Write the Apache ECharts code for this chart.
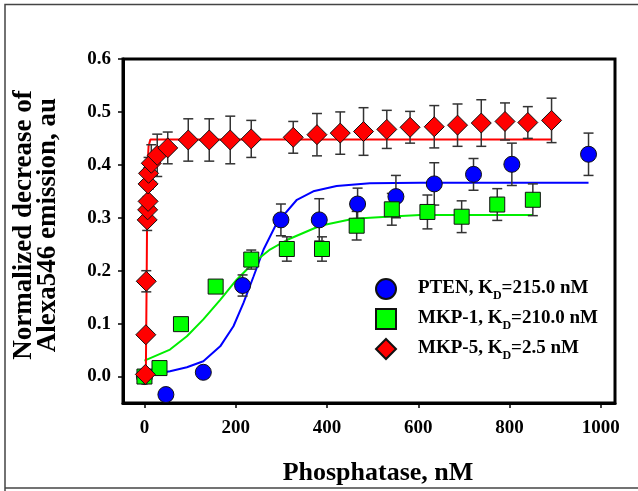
<!DOCTYPE html>
<html>
<head>
<meta charset="utf-8">
<script src="https://cdn.jsdelivr.net/npm/echarts@6/dist/echarts.min.js"></script>
<style>
html,body{margin:0;padding:0;background:#fff;}
#chart{width:638px;height:491px;}
</style>
</head>
<body>
<div id="chart"></div>
<script>
// ---- data ----
const xTicks = [0, 200, 400, 600, 800, 1000];
const yTicks = [0, 0.1, 0.2, 0.3, 0.4, 0.5, 0.6];

const ptenX   = [0, 47, 129, 215, 299, 383, 467, 551, 635, 721, 805, 973];
const ptenY   = [0.0, -0.034, 0.008, 0.172, 0.296, 0.296, 0.326, 0.34, 0.364, 0.382, 0.401, 0.42];
const ptenErr = [0, 0, 0, 0.02, 0.03, 0.04, 0.03, 0.04, 0.04, 0.03, 0.04, 0.04];

const mkp1X   = [0, 33, 80, 156, 234, 312, 389, 465, 542, 620, 695, 773, 851];
const mkp1Y   = [0.0, 0.016, 0.099, 0.17, 0.221, 0.241, 0.241, 0.285, 0.316, 0.311, 0.302, 0.325, 0.334];
const mkp1Err = [0, 0, 0, 0, 0.018, 0.023, 0.023, 0.027, 0.03, 0.032, 0.03, 0.03, 0.03];

const mkp5X   = [2, 3, 4, 6, 7, 8, 8, 9, 15, 28, 51, 96, 142, 188, 234, 326, 378, 429, 480, 531, 582, 635, 686, 738, 790, 840, 892];
const mkp5Y   = [0.004, 0.079, 0.18, 0.296, 0.315, 0.331, 0.364, 0.384, 0.403, 0.418, 0.432, 0.447, 0.447, 0.447, 0.449, 0.452, 0.457, 0.46, 0.463, 0.467, 0.471, 0.472, 0.475, 0.479, 0.482, 0.48, 0.484];
const mkp5Err = [0, 0, 0.02, 0.02, 0.025, 0.03, 0.03, 0.03, 0.035, 0.04, 0.03, 0.04, 0.04, 0.045, 0.035, 0.03, 0.04, 0.04, 0.045, 0.036, 0.03, 0.04, 0.04, 0.044, 0.035, 0.03, 0.042];

// fitted curves
const ptenFitX = [0, 56, 93, 129, 166, 195, 217, 239, 261, 290, 334, 370, 421, 494, 604, 973];
const ptenFitY = [0.002, 0.01, 0.0175, 0.029, 0.057, 0.095, 0.139, 0.189, 0.24, 0.29, 0.334, 0.35, 0.36, 0.365, 0.366, 0.366];
const mkp1FitX = [0, 56, 93, 129, 166, 202, 239, 275, 312, 385, 458, 531, 604, 851];
const mkp1FitY = [0.03, 0.051, 0.076, 0.108, 0.145, 0.183, 0.215, 0.24, 0.258, 0.285, 0.298, 0.302, 0.305, 0.305];
const mkp5FitX = [3, 5, 6, 7, 9, 13, 892];
const mkp5FitY = [0.0, 0.2, 0.33, 0.4, 0.435, 0.448, 0.448];

const names = ['PTEN', 'MKP-1', 'MKP-5'];
const kdText = { 'PTEN': '215.0 nM', 'MKP-1': '210.0 nM', 'MKP-5': '2.5 nM' };

// ---- helpers ----
const zip = (xs, ys) => xs.map((x, i) => [x, ys[i]]);
const zip3 = (xs, ys, es) => xs.map((x, i) => [x, ys[i], es[i]]);
const FONT = "'Liberation Serif', 'Times New Roman', serif";

function errSeries(xs, ys, es) {
  return {
    type: 'custom',
    silent: true,
    z: 3,
    data: zip3(xs, ys, es).filter(d => d[2] > 0),
    renderItem: function (params, api) {
      const x = api.value(0), y = api.value(1), e = api.value(2);
      const top = api.coord([x, y + e]);
      const bot = api.coord([x, y - e]);
      const w = 5;
      const st = { stroke: '#333', lineWidth: 1.5 };
      return {
        type: 'group',
        children: [
          { type: 'line', shape: { x1: top[0], y1: top[1], x2: bot[0], y2: bot[1] }, style: st },
          { type: 'line', shape: { x1: top[0] - w, y1: top[1], x2: top[0] + w, y2: top[1] }, style: st },
          { type: 'line', shape: { x1: bot[0] - w, y1: bot[1], x2: bot[0] + w, y2: bot[1] }, style: st }
        ]
      };
    }
  };
}
function fitSeries(xs, ys, color) {
  return {
    type: 'line', data: zip(xs, ys), showSymbol: false, symbol: 'none',
    smooth: false, silent: true, z: 2,
    lineStyle: { color: color, width: 2 }
  };
}

const chart = echarts.init(document.getElementById('chart'), null, { renderer: 'canvas' });
const option = {
  animation: false,
  backgroundColor: '#fff',
  grid: {
    left: 123, top: 59, right: 23, bottom: 87,
    show: true, borderColor: '#000', borderWidth: 3, backgroundColor: 'transparent'
  },
  xAxis: {
    type: 'value', min: -47, max: 1031,
    name: 'Phosphatase, nM', nameLocation: 'middle', nameGap: 57,
    nameTextStyle: { fontFamily: FONT, fontWeight: 'bold', fontSize: 26, color: '#000', padding: [0, 0, 0, 18] },
    axisLine: { show: true, onZero: false, lineStyle: { color: '#000', width: 3 } },
    axisTick: { show: true, inside: false, length: 5, customValues: xTicks, lineStyle: { color: '#000', width: 1.5 } },
    axisLabel: { customValues: xTicks, margin: 16, fontFamily: FONT, fontWeight: 'bold', fontSize: 19, color: '#000',
      formatter: v => String(v) },
    splitLine: { show: false }
  },
  yAxis: {
    type: 'value', min: -0.05, max: 0.6,
    name: 'Normalized decrease of\nAlexa546 emission, au', nameLocation: 'middle', nameGap: 63, nameRotate: 90,
    nameTextStyle: { fontFamily: FONT, fontWeight: 'bold', fontSize: 27, lineHeight: 24, color: '#000', padding: [0, 0, 0, 12] },
    axisLine: { show: true, onZero: false, lineStyle: { color: '#000', width: 3 } },
    axisTick: { show: true, inside: false, length: 5, customValues: yTicks, lineStyle: { color: '#000', width: 1.5 } },
    axisLabel: { customValues: yTicks, margin: 12, fontFamily: FONT, fontWeight: 'bold', fontSize: 19, color: '#000',
      formatter: v => v.toFixed(1) },
    splitLine: { show: false }
  },
  legend: {
    data: names,
    orient: 'vertical', left: 370, top: 273,
    itemWidth: 20, itemHeight: 20, itemGap: 6,
    formatter: function (name) {
      return '{t|' + name + ', K}{s|D}{t|=' + kdText[name] + '}';
    },
    textStyle: {
      padding: [0, 0, 0, 17],
      rich: {
        t: { fontFamily: FONT, fontWeight: 'bold', fontSize: 19, color: '#000', lineHeight: 20, verticalAlign: 'top' },
        s: { fontFamily: FONT, fontWeight: 'bold', fontSize: 12, color: '#000', lineHeight: 8, padding: [11, 0, 0, 0], verticalAlign: 'top' }
      }
    }
  },
  graphic: [
    { type: 'polyline', silent: true, shape: { points: [[5, 491], [5, 4.5], [638, 4.5]] }, style: { stroke: '#444', lineWidth: 1.5, fill: null } },
    { type: 'line', silent: true, shape: { x1: 5, y1: 488, x2: 638, y2: 488 }, style: { stroke: '#444', lineWidth: 1.5 } }
  ],
  series: [
    fitSeries(ptenFitX, ptenFitY, '#0000ff'),
    fitSeries(mkp1FitX, mkp1FitY, '#00ee00'),
    fitSeries(mkp5FitX, mkp5FitY, '#ff0000'),
    errSeries(ptenX, ptenY, ptenErr),
    errSeries(mkp1X, mkp1Y, mkp1Err),
    errSeries(mkp5X, mkp5Y, mkp5Err),
    {
      name: 'PTEN', type: 'scatter', data: zip(ptenX, ptenY), symbol: 'circle', symbolSize: 16, z: 4, clip: false,
      itemStyle: { color: '#0000ff', borderColor: '#111', borderWidth: 1, opacity: 1 }
    },
    {
      name: 'MKP-1', type: 'scatter', data: zip(mkp1X, mkp1Y), symbol: 'rect', symbolSize: 15, z: 5, clip: false,
      itemStyle: { color: '#00ff00', borderColor: '#111', borderWidth: 1, opacity: 1 }
    },
    {
      name: 'MKP-5', type: 'scatter', data: zip(mkp5X, mkp5Y), symbol: 'diamond', symbolSize: 20, z: 6, clip: false,
      itemStyle: { color: '#ff0000', borderColor: '#111', borderWidth: 1, opacity: 1 }
    }
  ]
};
chart.setOption(option);
</script>
</body>
</html>
